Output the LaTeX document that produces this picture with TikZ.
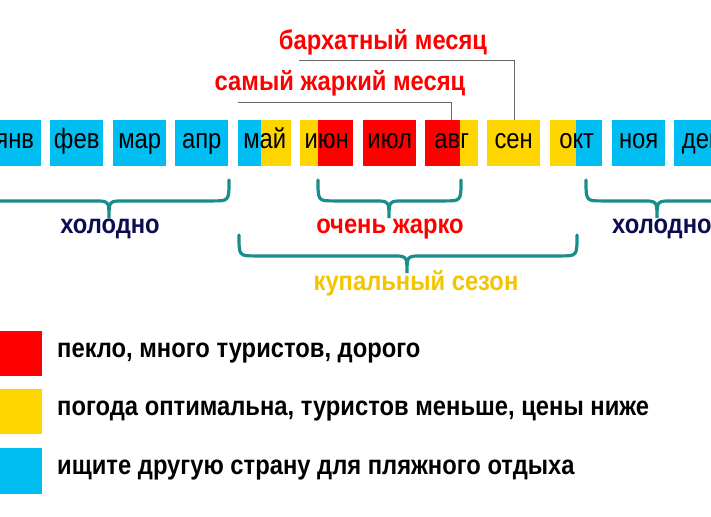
\documentclass[tikz,border=0pt]{standalone}
\usepackage{fontspec}
\setmainfont{Liberation Sans}[FakeStretch=0.85]
\newfontfamily\labf{Liberation Sans}[FakeStretch=0.88]
\newfontfamily\legf{Liberation Sans}[FakeStretch=0.88]
\begin{document}
\begin{tikzpicture}[x=1pt,y=-1pt,
  mb/.style={minimum width=53pt,minimum height=46pt,inner sep=0pt,text height=14pt,text depth=3pt,font=\fontsize{28}{28}\selectfont,anchor=north west},
  lab/.style={font=\labf\bfseries\fontsize{27}{27}\selectfont,inner sep=0pt},
  leg/.style={font=\legf\bfseries\fontsize{27}{27}\selectfont,inner sep=0pt,anchor=west},
  br/.style={draw=teal,line width=3.2pt,line cap=round},
  conn/.style={draw=gray!80!black,line width=0.8pt}]
\definecolor{cb}{HTML}{00BEF2}
\definecolor{cy}{HTML}{FFD500}
\definecolor{cr}{HTML}{FF0000}
\definecolor{teal}{HTML}{1A8C8A}
\definecolor{navy}{HTML}{0C0C50}
\definecolor{ty}{HTML}{F2C500}
\newcommand\mybrace[5]{% x1 x2 tip top bottom
  \path[br] (#1,#4) .. controls (#1,{#4+0.55*(#5-#4)}) .. ({#1+16},{#4+0.55*(#5-#4)}) -- ({#3-16},{#4+0.55*(#5-#4)})
   .. controls (#3,{#4+0.55*(#5-#4)}) .. (#3,#5) .. controls (#3,{#4+0.55*(#5-#4)}) .. ({#3+16},{#4+0.55*(#5-#4)})
   -- ({#2-16},{#4+0.55*(#5-#4)}) .. controls (#2,{#4+0.55*(#5-#4)}) .. (#2,#4);}
\useasboundingbox (0,0) rectangle (711,516);
\clip (0,0) rectangle (711,516);
% month boxes
\node[mb,fill=cb] (m1) at (-12,120) {янв};
\node[mb,fill=cb] (m2) at (50,120) {фев};
\node[mb,fill=cb] (m3) at (113,120) {мар};
\node[mb,fill=cb] (m4) at (175,120) {апр};
\fill[cb] (238,120) rectangle (261,166); \fill[cy] (261,120) rectangle (291,166);
\node[mb] (m5) at (238,120) {май};
\fill[cy] (300,120) rectangle (318,166); \fill[cr] (318,120) rectangle (353,166);
\node[mb] (m6) at (300,120) {июн};
\node[mb,fill=cr] (m7) at (363,120) {июл};
\fill[cr] (425,120) rectangle (460,166); \fill[cy] (460,120) rectangle (478,166);
\node[mb] (m8) at (425,120) {авг};
\node[mb,fill=cy] (m9) at (487,120) {сен};
\fill[cy] (550,120) rectangle (576,166); \fill[cb] (576,120) rectangle (602,166);
\node[mb] (m10) at (550,120) {окт};
\node[mb,fill=cb] (m11) at (612,120) {ноя};
\node[mb,fill=cb] (m12) at (674,120) {дек};
% top labels
\node[lab,text=cr] (bm) at (383,42) {бархатный месяц};
\node[lab,text=cr] (sm) at (340,83) {самый жаркий месяц};
\coordinate (b1) at (299,60); \coordinate (b2) at (514,60);
\coordinate (s1) at (238,102); \coordinate (s2) at (451,102);
\draw[conn] (b1) -- (b2) -- (b2 |- m9.north);
\draw[conn] (s1) -- (s2) -- (s2 |- m8.north);
% braces
\mybrace{-60}{229}{109}{180}{218}
\mybrace{318}{461}{389}{180}{218}
\mybrace{586}{820}{657}{180}{218}
\mybrace{239}{577}{407}{235}{273}
\node[lab,text=navy] (c1) at (110,229) {холодно};
\node[lab,text=navy,anchor=west] (c2) at (612,229) {холодно};
\node[lab,text=cr] (hot) at (390,229) {очень жарко};
\node[lab,text=ty] (swim) at (416,283) {купальный сезон};
% legend
\fill[cr] (0,331) rectangle (42,376);
\fill[cy] (0,389) rectangle (42,434);
\fill[cb] (0,448) rectangle (42,494);
\node[leg] (l1) at (57,353) {пекло, много туристов, дорого};
\node[leg] (l2) at (57,411) {погода оптимальна, туристов меньше, цены ниже};
\node[leg] (l3) at (57,470) {ищите другую страну для пляжного отдыха};
\end{tikzpicture}
\end{document}
